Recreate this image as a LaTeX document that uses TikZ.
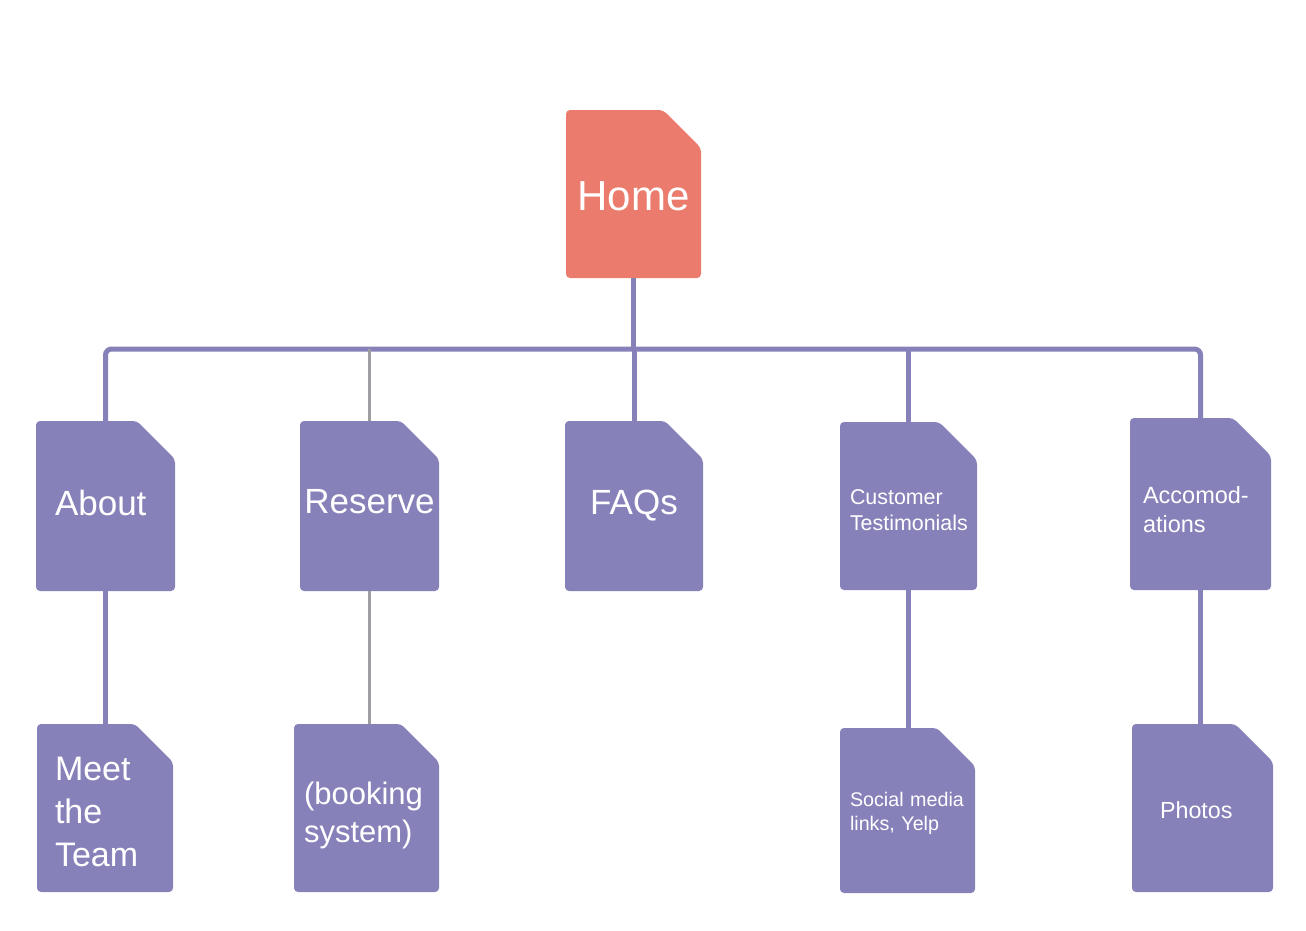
\documentclass[tikz,border=0pt]{standalone}
\usepackage{fontspec}
\setmainfont{Liberation Sans}
\definecolor{homered}{RGB}{235,123,108}
\definecolor{pagepurple}{RGB}{135,129,185}
\definecolor{linkgray}{RGB}{158,158,162}

\tikzset{
  page/.style={rectangle, inner sep=0pt, text=white, path picture={
    \fill[#1, rounded corners=4pt] (path picture bounding box.south west)
      -- (path picture bounding box.north west)
      -- ([xshift=-38pt]path picture bounding box.north east)
      -- ([yshift=-38pt]path picture bounding box.north east)
      -- (path picture bounding box.south east) -- cycle;}},
  page/.default=pagepurple,
  link/.style={pagepurple, line width=5pt, rounded corners=6pt},
  graylink/.style={linkgray, line width=3pt},
}

\begin{document}
\begin{tikzpicture}[x=1pt, y=-1pt]
    \useasboundingbox (0,0) rectangle (1306,930);
    % top level
    \node[page=homered, minimum width=135, minimum height=168, font=\fontsize{42}{50}\selectfont] (home) at (633.5,194) {\rule{0pt}{34pt}Home};
    % second row
    \node[page, minimum width=139, minimum height=170, align=left, text width=101, font=\fontsize{35}{43}\selectfont] (about) at (105.5,506) {About\rule[-6pt]{0pt}{6pt}};
    \node[page, minimum width=139, minimum height=170, font=\fontsize{35}{43}\selectfont] (reserve) at (369.5,506) {Reserve\rule[-10pt]{0pt}{10pt}};
    \node[page, minimum width=138, minimum height=170, font=\fontsize{35}{43}\selectfont] (faqs) at (634,506) {FAQs};
    \node[page, minimum width=137, minimum height=168, align=left, text width=117, font=\fontsize{21.4}{26.5}\selectfont] (testi) at (908.5,506) {\rule{0pt}{23pt}Customer\\Testimonials};
    \node[page, minimum width=141, minimum height=172, align=left, text width=115, font=\fontsize{23.5}{29}\selectfont] (accom) at (1200.5,504) {\rule{0pt}{29pt}Accomod-\\ations};
    % third row
    \node[page, minimum width=136, minimum height=168, align=left, text width=100, font=\fontsize{34}{43}\selectfont] (meet) at (105,808) {\rule{0pt}{32pt}Meet\\the\\Team};
    \node[page, minimum width=145, minimum height=168, align=left, text width=125, font=\fontsize{31}{38}\selectfont] (booking) at (366.5,808) {\rule{0pt}{37pt}(booking\\system)};
    \node[page, minimum width=135, minimum height=165, align=left, text width=115, font=\fontsize{19.7}{24}\selectfont] (social) at (907.5,810.5) {\rule{0pt}{20pt}Social media\\links, Yelp};
    \node[page, minimum width=141, minimum height=168, align=left, text width=85, font=\fontsize{23.3}{28}\selectfont] (photos) at (1202.5,808) {\rule{0pt}{21pt}Photos};
    % connectors
    \coordinate (bus) at (634,349);
    \draw[link] (home.south) -- (home.south |- bus);
    \draw[link] (about.north) |- (accom.north |- bus) -- (accom.north);
    \foreach \n in {faqs, testi}{
      \draw[link] (\n.north) -- (\n.north |- bus);
    }
    \draw[graylink] (reserve.north) -- (reserve.north |- bus);
    \foreach \a/\b in {about/meet, testi/social, accom/photos}{
      \draw[link] (\a.south) -- (\a.south |- \b.north);
    }
    \draw[graylink] (reserve.south) -- (reserve.south |- booking.north);
\end{tikzpicture}
\end{document}
